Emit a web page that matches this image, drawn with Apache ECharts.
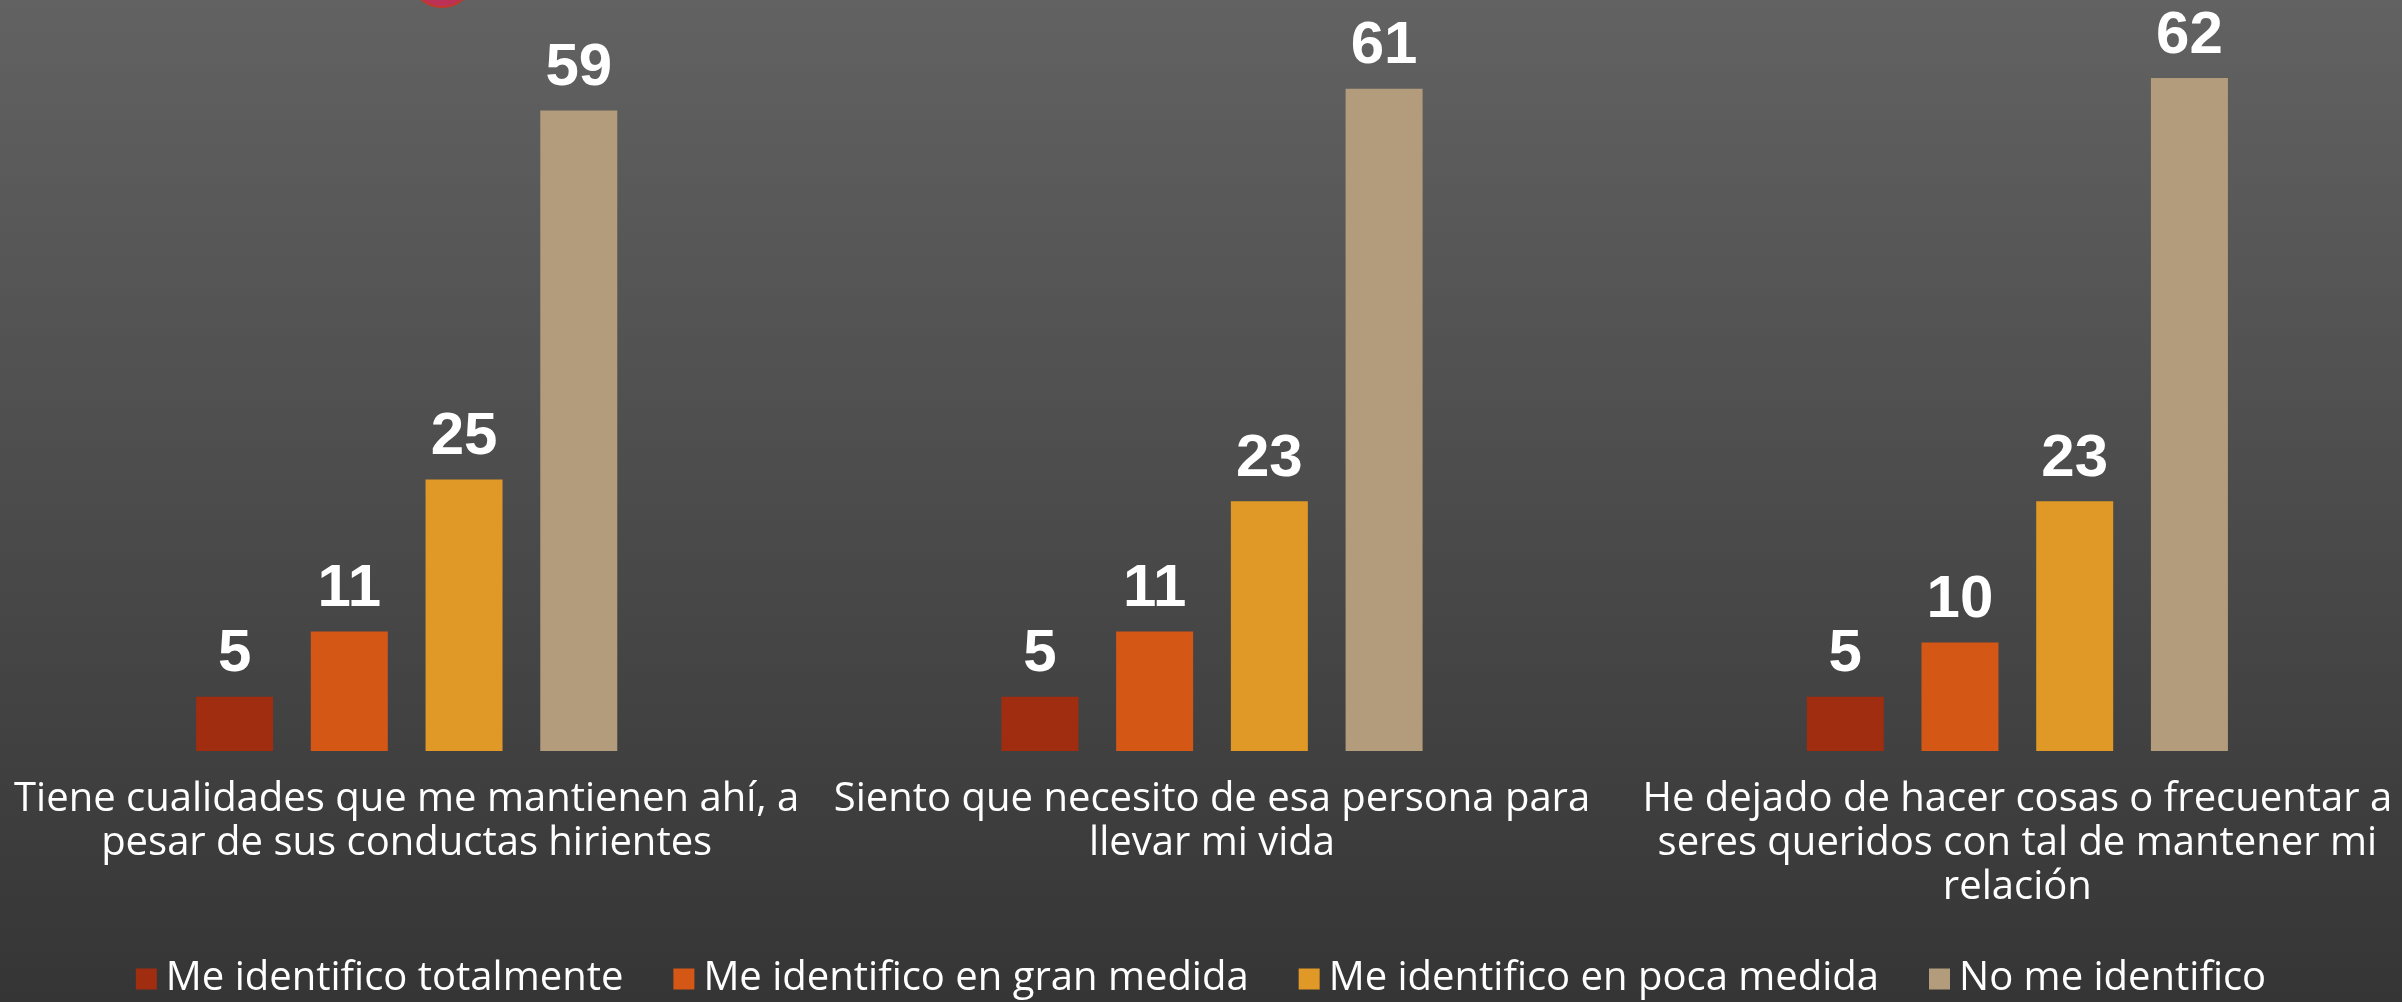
<!DOCTYPE html>
<html>
<head>
<meta charset="utf-8">
<style>
  html, body { margin: 0; padding: 0; background: #4a4a4a; }
  #chart { width: 2402px; height: 1002px; }
</style>
<script src="https://cdn.jsdelivr.net/npm/echarts@6/dist/echarts.min.js"></script>
</head>
<body>
<div id="chart"></div>
<script>
// categorias (con saltos de linea como en la diapositiva)
var categories = [
  'Tiene cualidades que me mantienen ahí, a\npesar de sus conductas hirientes',
  'Siento que necesito de esa persona para\nllevar mi vida',
  'He dejado de hacer cosas o frecuentar a\nseres queridos con tal de mantener mi\nrelación'
]
var seriesNames = ['Me identifico totalmente', 'Me identifico en gran medida', 'Me identifico en poca medida', 'No me identifico']
var totalmente = [5, 5, 5]
var granMedida = [11, 11, 10]
var pocaMedida = [25, 23, 23]
var noIdentifico = [59, 61, 62]
var colors = ['#a12d10', '#d55716', '#e09826', '#b39c7c']

var myChart = echarts.init(document.getElementById('chart'))

var valores = [totalmente, granMedida, pocaMedida, noIdentifico]
var series = seriesNames.map(function (name, i) {
  return {
    name: name,
    type: 'bar',
    data: valores[i],
    barWidth: 77,
    barGap: '49%',
    itemStyle: { color: colors[i] },
    label: {
      show: true,
      position: 'top',
      distance: 12,
      color: '#ffffff',
      fontFamily: 'Liberation Sans',
      fontWeight: 'bold',
      fontSize: 60
    }
  }
})

var option = {
  backgroundColor: new echarts.graphic.LinearGradient(0, 0, 0, 1, [
    { offset: 0, color: '#626262' },
    { offset: 1, color: '#353535' }
  ]),
  animation: false,
  textStyle: { fontFamily: 'Open Sans' },
  graphic: [{
    type: 'circle',
    shape: { cx: 442, cy: -25, r: 32 },
    style: { fill: '#bd3157', stroke: '#c0392b', lineWidth: 2 }
  }],
  legend: {
    data: seriesNames,
    bottom: -2,
    left: 'center',
    icon: 'rect',
    itemWidth: 21,
    itemHeight: 21,
    itemGap: 50,
    textStyle: {
      color: '#ffffff',
      fontSize: 40,
      fontFamily: 'Open Sans',
      padding: [0, 0, 0, 4]
    }
  },
  grid: {
    left: 4,
    width: 2416,
    top: 2,
    bottom: 251,
    containLabel: false,
    outerBoundsMode: 'none'
  },
  xAxis: {
    type: 'category',
    data: categories,
    axisLine: { show: false },
    axisTick: { show: false },
    axisLabel: {
      interval: 0,
      margin: 27,
      color: '#ffffff',
      fontSize: 40,
      lineHeight: 44,
      fontFamily: 'Open Sans',
      align: 'center'
    }
  },
  yAxis: {
    type: 'value',
    min: 0,
    max: 69,
    show: false,
    splitLine: { show: false }
  },
  series: series
}

myChart.setOption(option)
</script>
</body>
</html>
